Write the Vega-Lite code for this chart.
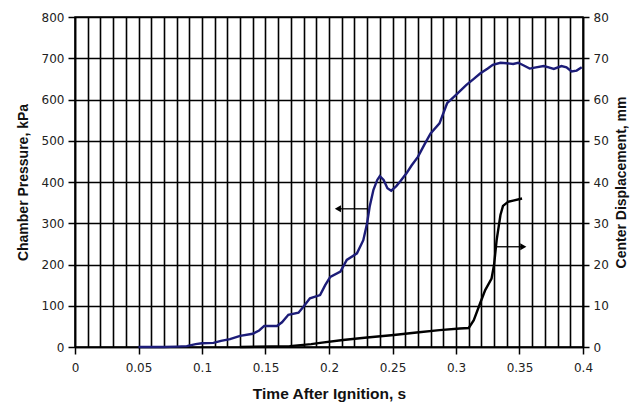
{
  "$schema": "https://vega.github.io/schema/vega-lite/v6.json",
  "autosize": {"type": "none"},
  "width": 508,
  "height": 330,
  "padding": {"left": 75, "top": 17, "right": 51, "bottom": 61},
  "background": "white",
  "config": {
    "view": {"stroke": "black", "strokeWidth": 1.5},
    "font": "Liberation Sans",
    "axis": {
      "labelFont": "DejaVu Sans",
      "labelFontSize": 12,
      "labelColor": "#222",
      "titleFont": "Liberation Sans",
      "titleFontSize": 14,
      "titleFontWeight": "bold",
      "titleColor": "#111",
      "domainColor": "black",
      "domainWidth": 1.5,
      "tickColor": "black",
      "tickWidth": 1.5,
      "gridColor": "black",
      "gridWidth": 1.6,
      "gridOpacity": 1
    }
  },
  "datasets": {
    "pressure": [
      {"t": 0.05, "P": 0}, {"t": 0.06, "P": 0}, {"t": 0.07, "P": 0}, {"t": 0.08, "P": 1},
      {"t": 0.088, "P": 2}, {"t": 0.095, "P": 7}, {"t": 0.1, "P": 9}, {"t": 0.109, "P": 10},
      {"t": 0.115, "P": 15}, {"t": 0.122, "P": 19}, {"t": 0.13, "P": 27}, {"t": 0.14, "P": 32},
      {"t": 0.145, "P": 40}, {"t": 0.149, "P": 51}, {"t": 0.159, "P": 51}, {"t": 0.163, "P": 60},
      {"t": 0.168, "P": 78}, {"t": 0.176, "P": 83}, {"t": 0.18, "P": 98}, {"t": 0.185, "P": 118},
      {"t": 0.193, "P": 126}, {"t": 0.197, "P": 150}, {"t": 0.201, "P": 170}, {"t": 0.209, "P": 183},
      {"t": 0.214, "P": 211}, {"t": 0.222, "P": 227}, {"t": 0.227, "P": 259}, {"t": 0.23, "P": 300},
      {"t": 0.232, "P": 340}, {"t": 0.235, "P": 381}, {"t": 0.238, "P": 405}, {"t": 0.24, "P": 414},
      {"t": 0.243, "P": 405}, {"t": 0.246, "P": 385}, {"t": 0.249, "P": 379}, {"t": 0.253, "P": 390},
      {"t": 0.256, "P": 401}, {"t": 0.261, "P": 421}, {"t": 0.265, "P": 440}, {"t": 0.27, "P": 461},
      {"t": 0.275, "P": 490}, {"t": 0.28, "P": 518}, {"t": 0.287, "P": 542}, {"t": 0.293, "P": 591},
      {"t": 0.3, "P": 611}, {"t": 0.308, "P": 635}, {"t": 0.314, "P": 650}, {"t": 0.319, "P": 663},
      {"t": 0.325, "P": 675}, {"t": 0.329, "P": 684}, {"t": 0.335, "P": 689}, {"t": 0.34, "P": 688},
      {"t": 0.345, "P": 686}, {"t": 0.349, "P": 689}, {"t": 0.353, "P": 683}, {"t": 0.358, "P": 675},
      {"t": 0.363, "P": 678}, {"t": 0.369, "P": 681}, {"t": 0.373, "P": 678}, {"t": 0.377, "P": 674},
      {"t": 0.383, "P": 681}, {"t": 0.387, "P": 678}, {"t": 0.391, "P": 668}, {"t": 0.395, "P": 670},
      {"t": 0.399, "P": 678}
    ],
    "displacement": [
      {"t": 0.13, "D": 0}, {"t": 0.169, "D": 0.2}, {"t": 0.186, "D": 0.7}, {"t": 0.193, "D": 1.0},
      {"t": 0.211, "D": 1.7}, {"t": 0.23, "D": 2.3}, {"t": 0.251, "D": 2.9}, {"t": 0.269, "D": 3.5},
      {"t": 0.287, "D": 4.1}, {"t": 0.303, "D": 4.5}, {"t": 0.31, "D": 4.6}, {"t": 0.314, "D": 6.5},
      {"t": 0.319, "D": 10.6}, {"t": 0.323, "D": 13.8}, {"t": 0.328, "D": 16.6}, {"t": 0.33, "D": 20},
      {"t": 0.332, "D": 25.9}, {"t": 0.335, "D": 32}, {"t": 0.337, "D": 34.2}, {"t": 0.341, "D": 35.2},
      {"t": 0.345, "D": 35.5}, {"t": 0.352, "D": 36}
    ],
    "arrowP": [{"t": 0.207, "t2": 0.23, "P": 335}],
    "arrowD": [{"t": 0.353, "t2": 0.331, "D": 24.3}]
  },
  "encoding": {
    "x": {
      "field": "t", "type": "quantitative",
      "scale": {"domain": [0, 0.4], "nice": false, "zero": false},
      "axis": {
        "title": "Time After Ignition, s",
        "titleFontSize": 15.5,
        "values": [0,0.01,0.02,0.03,0.04,0.05,0.06,0.07,0.08,0.09,0.1,0.11,0.12,0.13,0.14,0.15,0.16,0.17,0.18,0.19,0.2,0.21,0.22,0.23,0.24,0.25,0.26,0.27,0.28,0.29,0.3,0.31,0.32,0.33,0.34,0.35,0.36,0.37,0.38,0.39,0.4],
        "labelExpr": "abs(datum.value*20 - round(datum.value*20)) < 0.001 ? ('' + datum.value) : ''",
        "tickOpacity": {"condition": {"test": "abs(datum.value*20 - round(datum.value*20)) < 0.001", "value": 1}, "value": 0},
        "tickSize": 7,
        "labelPadding": 8,
        "titlePadding": 13,
        "grid": true,
        "labelFlush": false,
        "labelOverlap": false
      }
    }
  },
  "layer": [
    {
      "encoding": {
        "y": {
          "field": "P", "type": "quantitative",
          "scale": {"domain": [0, 800], "nice": false},
          "axis": {
            "title": "Chamber Pressure, kPa",
            "values": [0,100,200,300,400,500,600,700,800],
            "tickSize": 7,
            "labelPadding": 4,
            "titlePadding": 11,
            "grid": true
          }
        }
      },
      "layer": [
        {
          "data": {"name": "pressure"},
          "mark": {"type": "line", "color": "#1c1c78", "strokeWidth": 2.4}
        },
        {
          "data": {"name": "arrowP"},
          "mark": {"type": "rule", "color": "black", "strokeWidth": 1.3},
          "encoding": {"x2": {"field": "t2"}}
        },
        {
          "data": {"name": "arrowP"},
          "mark": {"type": "point", "shape": "triangle-left", "filled": true, "color": "black", "size": 50, "opacity": 1}
        }
      ]
    },
    {
      "encoding": {
        "y": {
          "field": "D", "type": "quantitative",
          "scale": {"domain": [0, 80], "nice": false},
          "axis": {
            "title": "Center Displacement, mm",
            "orient": "right",
            "titleAngle": 270,
            "titleBaseline": "top",
            "values": [0,10,20,30,40,50,60,70,80],
            "tickSize": 6,
            "labelPadding": 4,
            "titlePadding": 6,
            "grid": false
          }
        }
      },
      "layer": [
        {
          "data": {"name": "displacement"},
          "mark": {"type": "line", "color": "black", "strokeWidth": 2.4}
        },
        {
          "data": {"name": "arrowD"},
          "mark": {"type": "rule", "color": "black", "strokeWidth": 1.3},
          "encoding": {"x2": {"field": "t2"}}
        },
        {
          "data": {"name": "arrowD"},
          "mark": {"type": "point", "shape": "triangle-right", "filled": true, "color": "black", "size": 50, "opacity": 1}
        }
      ]
    }
  ],
  "resolve": {"scale": {"y": "independent"}}
}
